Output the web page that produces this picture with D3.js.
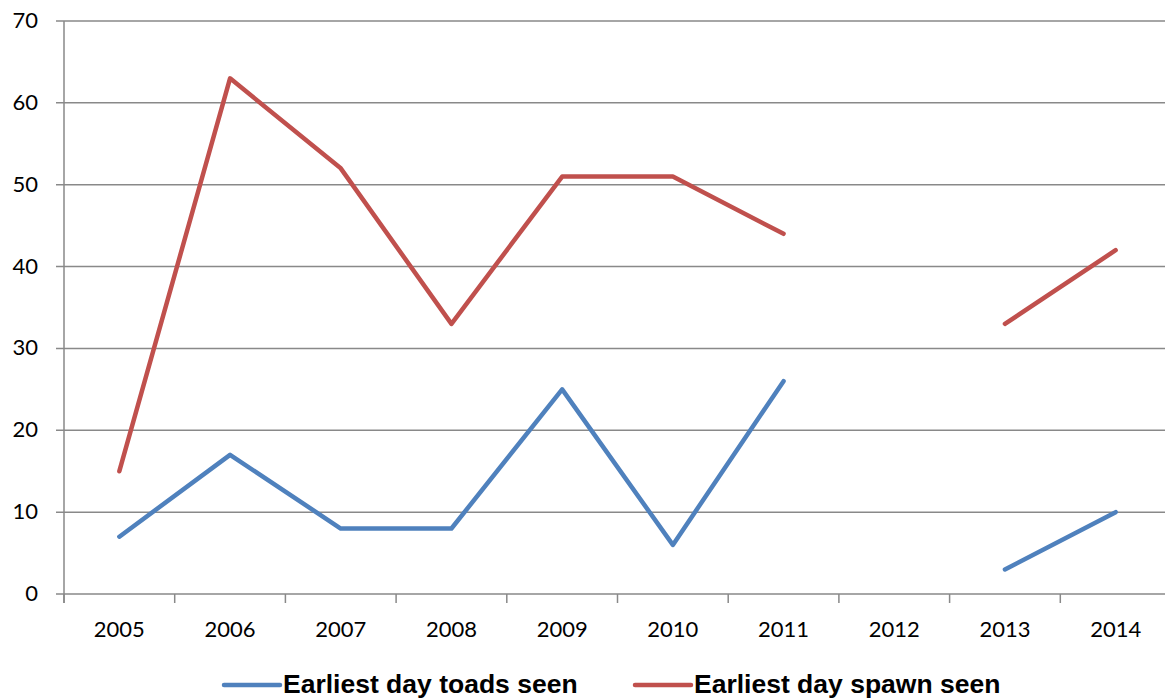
<!DOCTYPE html>
<html>
<head>
<meta charset="utf-8">
<script src="https://cdn.jsdelivr.net/npm/d3@7"></script>
<style>
  body { margin: 0; background: #fff; }
  svg { display: block; }
</style>
</head>
<body>
<div id="chart"></div>
<script>
// data (2012 has no value)
const years = ["2005", "2006", "2007", "2008", "2009", "2010", "2011", "2012", "2013", "2014"];
const toads = [7, 17, 8, 8, 25, 6, 26, null, 3, 10];
const spawn = [15, 63, 52, 33, 51, 51, 44, null, 33, 42];
const yTicks = [0, 10, 20, 30, 40, 50, 60, 70];
const seriesNames = ["Earliest day toads seen", "Earliest day spawn seen"];

const W = 1165, H = 700;
const plotLeft = 64, plotTop = 21, plotBottom = 594;

const svg = d3.select("#chart").append("svg")
  .attr("width", W).attr("height", H);

const x = d3.scaleBand().domain(years).range([plotLeft, plotLeft + 10 * 110.7]);
const y = d3.scaleLinear().domain([0, 70]).range([plotBottom, plotTop]);

// gridlines
svg.append("g")
  .selectAll("line")
  .data(yTicks)
  .join("line")
    .attr("x1", plotLeft - 8).attr("x2", W)
    .attr("y1", d => y(d)).attr("y2", d => y(d))
    .attr("stroke", "#898989").attr("stroke-width", 1.5);

// y axis line + labels
svg.append("line")
  .attr("x1", plotLeft).attr("x2", plotLeft)
  .attr("y1", y(70)).attr("y2", plotBottom + 9)
  .attr("stroke", "#898989").attr("stroke-width", 1.5);

svg.append("g")
  .selectAll("text")
  .data(yTicks)
  .join("text")
    .attr("x", 38).attr("y", d => y(d) + 7)
    .attr("text-anchor", "end")
    .style("font-family", "Lato, 'Open Sans', sans-serif")
    .style("font-size", "22px")
    .text(d => d);

// x axis ticks between categories
const bounds = years.map(d => x(d)).concat([x.range()[1]]);
svg.append("g")
  .selectAll("line")
  .data(bounds.filter(b => b <= W))
  .join("line")
    .attr("x1", d => d).attr("x2", d => d)
    .attr("y1", plotBottom).attr("y2", plotBottom + 9)
    .attr("stroke", "#898989").attr("stroke-width", 1.5);

svg.append("g")
  .selectAll("text")
  .data(years)
  .join("text")
    .attr("x", d => x(d) + x.bandwidth() / 2)
    .attr("y", 637)
    .attr("text-anchor", "middle")
    .style("font-family", "Lato, 'Open Sans', sans-serif")
    .style("font-size", "22px")
    .text(d => d);

// lines
const colors = ["#4F81BD", "#C0504D"];
const line = d3.line()
  .defined(d => d.v !== null)
  .x(d => x(d.year) + x.bandwidth() / 2)
  .y(d => y(d.v));

[toads, spawn].forEach((vals, i) => {
  svg.append("path")
    .datum(years.map((yr, j) => ({ year: yr, v: vals[j] })))
    .attr("fill", "none")
    .attr("stroke", colors[i])
    .attr("stroke-width", 4.5)
    .attr("stroke-linejoin", "round")
    .attr("stroke-linecap", "round")
    .attr("d", line);
});

// legend
const legX = [222, 633];
seriesNames.forEach((name, i) => {
  const g = svg.append("g").attr("transform", `translate(${legX[i]},685)`);
  g.append("line")
    .attr("x1", 2).attr("x2", 58)
    .attr("stroke", colors[i]).attr("stroke-width", 4.5)
    .attr("stroke-linecap", "round");
  g.append("text")
    .attr("x", 61).attr("y", 8)
    .style("font-family", "'Liberation Sans', Arial, sans-serif")
    .style("font-weight", "bold")
    .style("font-size", "26.5px")
    .text(name);
});
</script>
</body>
</html>
